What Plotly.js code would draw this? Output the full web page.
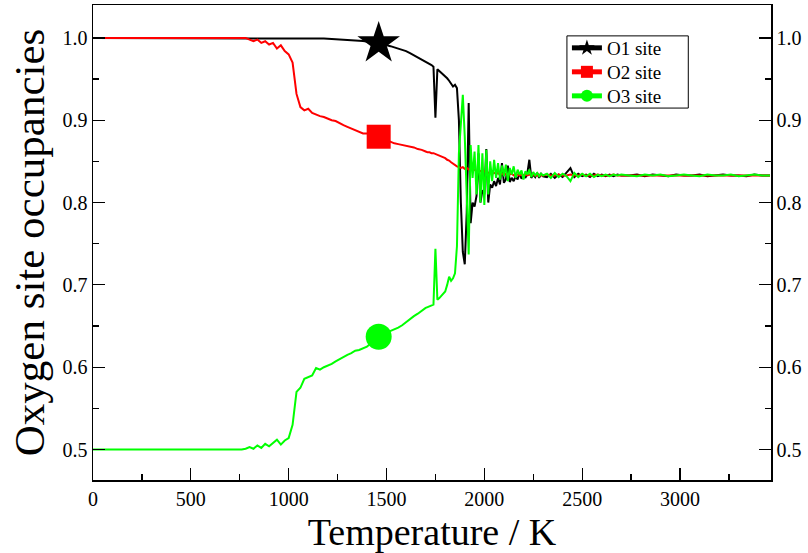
<!DOCTYPE html>
<html>
<head>
<meta charset="utf-8">
<script src="https://cdn.plot.ly/plotly-3.0.1.min.js"></script>
<style>html,body{margin:0;padding:0;background:#fff}#chart{width:808px;height:553px}</style>
</head>
<body>
<div id="chart"></div>
<script>
// Temperature grid (K)
var temperature = [
  0,100,200,300,400,500,600,700,
  720,740,760,780,800,820,840,860,880,900,920,940,960,980,1000,
  1020,1040,1060,1080,1100,1120,1140,1160,1180,1200,1220,1240,1260,1280,1300,
  1320,1340,1360,1380,1400,1420,1440,1460,1480,1500,1520,1540,1560,1580,1600,
  1620,1640,1660,1680,1700,
  1710,1720,1730,1740,1750,1760,1770,1780,1790,1800,1810,1820,1830,1840,1850,1860,
  1870,1880,1890,1900,1910,1920,1930,1940,1950,1960,
  1970,1980,1990,2000,2010,2020,2030,2040,2050,2060,
  2070,2080,2090,2100,2110,2120,2130,2140,2150,2160,
  2170,2180,2190,2200,2210,2220,2230,2240,2250,2260,
  2270,2280,2290,2300,
  2320,2340,2360,2380,2400,2420,2440,2460,2480,2500,
  2520,2540,2560,2580,2600,2620,2640,2660,2680,2700,
  2740,2780,2820,2860,2900,2940,2980,3020,3060,3100,
  3140,3180,3220,3260,3300,3340,3380,3420,3460
];

var o1Site = [
  1,1,1,1,1,1,1,1,
  1,1,1,1,1,1,1,1,1,1,1,1,1,1,1,
  1,1,0.9998,0.9997,0.9996,0.9995,0.9994,0.9993,0.9992,0.999,0.9988,0.9986,0.9984,0.9981,0.9978,
  0.9975,0.9971,0.9967,0.9962,0.9957,0.995,0.9943,0.9935,0.9925,0.9915,0.990,0.9885,0.987,0.9855,0.984,
  0.9815,0.979,0.9765,0.974,0.971,
  0.970,0.968,0.967,0.965,0.903,0.962,0.960,0.958,0.955,0.953,0.951,0.948,0.945,0.941,0.943,0.939,
  0.900,0.800,0.740,0.725,0.788,0.921,0.775,0.800,0.795,0.808,
  0.860,0.800,0.815,0.810,0.865,0.800,0.822,0.818,0.826,0.820,
  0.830,0.822,0.848,0.824,0.828,0.845,0.825,0.830,0.826,0.832,
  0.828,0.836,0.829,0.833,0.830,0.836,0.852,0.830,0.834,0.831,
  0.836,0.830,0.835,0.832,
  0.831,0.835,0.830,0.834,0.831,0.836,0.842,0.831,0.835,0.832,
  0.834,0.831,0.835,0.832,0.834,0.832,0.834,0.832,0.834,0.833,
  0.833,0.834,0.832,0.834,0.833,0.832,0.834,0.833,0.833,0.834,
  0.832,0.833,0.834,0.833,0.833,0.832,0.834,0.833,0.833
];

var o2Site = [
  1,1,1,1,1,1,1,1,
  1,1,1,1,0.998,0.996,0.998,0.994,0.996,0.992,0.994,0.987,0.991,0.984,0.980,
  0.970,0.932,0.916,0.912,0.914,0.909,0.907,0.905,0.904,0.902,0.900,0.899,0.896,0.894,0.892,
  0.890,0.888,0.886,0.884,0.884,0.882,0.881,0.880,0.878,0.876,0.874,0.872,0.871,0.870,0.869,
  0.868,0.867,0.865,0.864,0.862,
  0.861,0.861,0.860,0.860,0.859,0.858,0.857,0.856,0.855,0.854,0.852,0.851,0.849,0.847,0.846,0.844,
  0.843,0.842,0.843,0.841,0.842,0.840,0.841,0.839,0.840,0.838,
  0.839,0.838,0.839,0.838,0.837,0.836,0.837,0.835,0.836,0.835,
  0.836,0.834,0.835,0.834,0.835,0.834,0.834,0.835,0.833,0.834,
  0.834,0.833,0.834,0.833,0.834,0.833,0.834,0.833,0.834,0.833,
  0.833,0.834,0.833,0.833,
  0.834,0.833,0.833,0.834,0.833,0.833,0.834,0.833,0.833,0.834,
  0.833,0.833,0.833,0.834,0.833,0.833,0.833,0.834,0.833,0.833,
  0.833,0.8335,0.833,0.833,0.8335,0.833,0.833,0.833,0.8335,0.833,
  0.833,0.833,0.8335,0.833,0.833,0.833,0.8335,0.833,0.833
];

var o3Site = [
  0.5,0.5,0.5,0.5,0.5,0.5,0.5,0.5,
  0.500,0.500,0.500,0.501,0.503,0.501,0.505,0.502,0.507,0.504,0.508,0.512,0.506,0.511,0.514,
  0.530,0.570,0.575,0.586,0.588,0.590,0.599,0.597,0.600,0.602,0.604,0.607,0.610,0.612,0.615,
  0.617,0.620,0.621,0.623,0.625,0.629,0.633,0.637,0.640,0.642,0.644,0.646,0.648,0.651,0.655,
  0.659,0.662,0.665,0.669,0.672,
  0.673,0.674,0.675,0.676,0.744,0.682,0.684,0.687,0.690,0.692,0.700,0.710,0.705,0.708,0.714,0.747,
  0.860,0.900,0.931,0.880,0.800,0.737,0.870,0.830,0.862,0.810,
  0.870,0.800,0.860,0.797,0.864,0.810,0.850,0.826,0.852,0.830,
  0.848,0.828,0.845,0.832,0.846,0.826,0.842,0.834,0.844,0.830,
  0.840,0.834,0.839,0.828,0.838,0.834,0.840,0.831,0.837,0.833,
  0.836,0.832,0.835,0.833,
  0.835,0.830,0.836,0.831,0.835,0.832,0.826,0.836,0.831,0.835,
  0.832,0.835,0.831,0.834,0.832,0.834,0.832,0.834,0.833,0.834,
  0.833,0.832,0.834,0.833,0.834,0.832,0.833,0.834,0.833,0.832,
  0.834,0.833,0.833,0.834,0.832,0.833,0.834,0.833,0.833
];

var seriesNames = ["O1 site", "O2 site", "O3 site"];
var xTickVals = [0, 500, 1000, 1500, 2000, 2500, 3000];
var yTickVals = [0.5, 0.6, 0.7, 0.8, 0.9, 1.0];
var yTickText = ["0.5", "0.6", "0.7", "0.8", "0.9", "1.0"];
var markerTemperature = 1460;

var FONT = "Liberation Serif";
var XR = [0, 3465];
var YR = [0.463, 1.040];

function sizes(big) {
  return temperature.map(function (t) { return t === markerTemperature ? big : 0; });
}

var styles = [
  {color: "#000000", symbol: "star", size: 32, legend: "legend", ly: 0.9095},
  {color: "#ff0000", symbol: "square", size: 24, legend: "legend2", ly: 0.859},
  {color: "#00ff00", symbol: "circle", size: 26, legend: "legend3", ly: 0.8084}
];
var values = [o1Site, o2Site, o3Site];

var traces = values.map(function (v, i) {
  return {
    x: temperature, y: v, name: seriesNames[i], type: "scatter", mode: "lines+markers",
    legend: styles[i].legend,
    line: {color: styles[i].color, width: 2},
    marker: {color: styles[i].color, symbol: styles[i].symbol, size: sizes(styles[i].size), opacity: 1, line: {width: 0}},
    hoverinfo: "x+y"
  };
});
traces.push({x: [], y: [], yaxis: "y2", showlegend: false, hoverinfo: "skip", type: "scatter", mode: "lines"});

function legendAt(y) {
  return {
    x: 0.699, y: y, xanchor: "left", yanchor: "middle",
    bgcolor: "rgba(0,0,0,0)", borderwidth: 0,
    font: {family: FONT, size: 19, color: "#000"},
    itemsizing: "constant", tracegroupgap: 0
  };
}

var axisCommon = {
  showgrid: false, zeroline: false,
  showline: true, linecolor: "#000", linewidth: 1.5,
  ticks: "inside", ticklen: 12, tickwidth: 1.2, tickcolor: "#000",
  tickfont: {family: FONT, size: 20, color: "#000"}
};

var layout = {
  width: 808, height: 553,
  margin: {l: 93, r: 37, t: 5, b: 73},
  paper_bgcolor: "#ffffff", plot_bgcolor: "#ffffff",
  font: {family: FONT, color: "#000", size: 18},
  showlegend: true,
  legend: legendAt(styles[0].ly),
  legend2: legendAt(styles[1].ly),
  legend3: legendAt(styles[2].ly),
  shapes: [{
    type: "rect", xref: "paper", yref: "paper", layer: "above",
    x0: 0.699, x1: 0.878, y0: 0.783, y1: 0.935,
    line: {color: "#000", width: 1}, fillcolor: "rgba(255,255,255,0)"
  }],
  xaxis: Object.assign({}, axisCommon, {
    range: XR, autorange: false, mirror: true,
    tickvals: xTickVals, ticktext: xTickVals.map(String),
    minor: {dtick: 250, tick0: 0, ticks: "inside", ticklen: 6, tickwidth: 1.2, tickcolor: "#000"},
    title: {text: "Temperature / K", font: {family: FONT, size: 38, color: "#000"}, standoff: 10}
  }),
  yaxis: Object.assign({}, axisCommon, {
    range: YR, autorange: false,
    tickvals: yTickVals, ticktext: yTickText,
    minor: {dtick: 0.05, tick0: 0, ticks: "inside", ticklen: 6, tickwidth: 1.2, tickcolor: "#000"},
    title: {text: "Oxygen site occupancies", font: {family: FONT, size: 43, color: "#000"}, standoff: 4}
  }),
  yaxis2: Object.assign({}, axisCommon, {
    overlaying: "y", side: "right", anchor: "x",
    range: YR, autorange: false,
    tickvals: yTickVals, ticktext: yTickText,
    minor: {dtick: 0.05, tick0: 0, ticks: "inside", ticklen: 6, tickwidth: 1.2, tickcolor: "#000"}
  })
};

Plotly.newPlot("chart", traces, layout, {displayModeBar: false, staticPlot: true});
</script>
</body>
</html>
